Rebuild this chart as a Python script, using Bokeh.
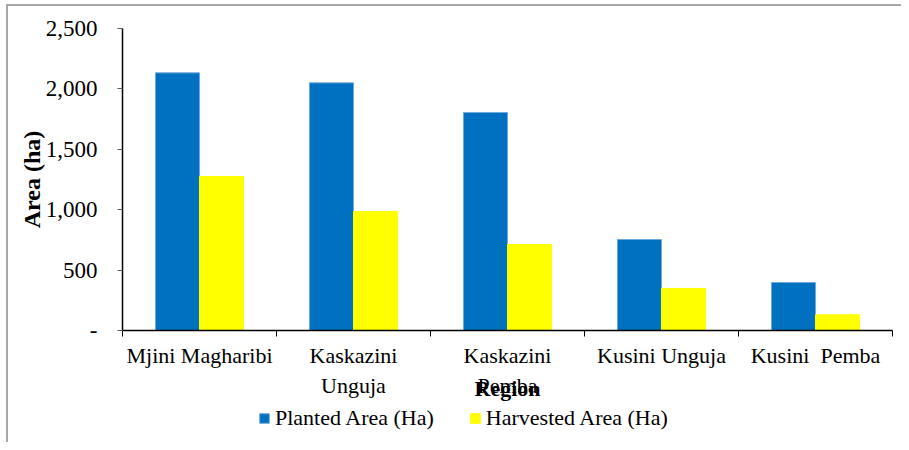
from bokeh.plotting import figure
from bokeh.layouts import column
from bokeh.models import (Range1d, FixedTicker, NumeralTickFormatter, Legend,
                          LegendItem, ColumnDataSource)
from bokeh.transform import dodge
from bokeh.embed import file_html
from bokeh.resources import INLINE

regions = ["Mjini Magharibi", "Kaskazini\nUnguja", "Kaskazini\nPemba",
           "Kusini Unguja", "Kusini\u00a0 Pemba"]
planted = [2133, 2050, 1805, 753, 397]
harvested = [1275, 985, 712, 348, 130]
y_ticks = [0, 500, 1000, 1500, 2000, 2500]
series_names = ["Planted Area (Ha)", "Harvested Area (Ha)"]
series_colors = ["#0070C0", "#FFFF00"]
series_lines = ["#6FA8DC", "#FFFF00"]

FONT = "Liberation Serif"
centers = [i + 0.5 for i in range(len(regions))]
bounds = list(range(len(regions) + 1))
bar_w = 0.286

src = ColumnDataSource(dict(x=centers, planted=planted, harvested=harvested))

p = figure(width=893, height=398, x_range=Range1d(0, len(regions)),
           y_range=Range1d(0, 2500), output_backend="svg",
           toolbar_location=None, min_border_left=114, min_border_right=9,
           min_border_top=22, min_border_bottom=74)
p.outline_line_color = None
p.xgrid.visible = False
p.ygrid.visible = False

p.vbar(x=dodge("x", -bar_w / 2), top="planted", width=bar_w, source=src,
       fill_color=series_colors[0], line_color=series_lines[0], line_width=1)
p.vbar(x=dodge("x", bar_w / 2), top="harvested", width=bar_w, source=src,
       fill_color=series_colors[1], line_color=series_lines[1], line_width=1)

# y axis
ya = p.yaxis[0]
ya.ticker = FixedTicker(ticks=y_ticks)
ya.formatter = NumeralTickFormatter(format="0,0")
ya.major_label_overrides = {0: "-"}
ya.minor_tick_line_color = None
ya.major_tick_out = 5
ya.major_tick_in = 0
ya.major_tick_line_color = "#595959"
ya.axis_line_color = "black"
ya.axis_line_width = 1.5
ya.major_label_standoff = 20
ya.major_label_text_font = FONT
ya.major_label_text_font_size = "23px"
ya.major_label_text_color = "black"
ya.axis_label = "Area (ha)"
ya.axis_label_text_font = FONT
ya.axis_label_text_font_style = "bold"
ya.axis_label_text_font_size = "24px"
ya.axis_label_text_color = "black"
ya.axis_label_standoff = -2

# x axis
xa = p.xaxis[0]
xa.ticker = FixedTicker(ticks=centers, minor_ticks=bounds)
xa.major_label_overrides = {c: r for c, r in zip(centers, regions)}
xa.major_tick_out = 0
xa.major_tick_in = 0
xa.minor_tick_out = 6
xa.minor_tick_in = 0
xa.minor_tick_line_color = "black"
xa.axis_line_color = "black"
xa.axis_line_width = 1.5
xa.major_label_standoff = 6
xa.major_label_text_font = FONT
xa.major_label_text_font_size = "22px"
xa.major_label_text_color = "black"
xa.axis_label = "Region"
xa.axis_label_text_font = FONT
xa.axis_label_text_font_style = "bold"
xa.axis_label_text_font_size = "22px"
xa.axis_label_text_color = "black"
xa.axis_label_standoff = -25

# legend strip below the plot (its bars are zero-sized, only the key shows)
lf = figure(width=893, height=38, x_range=Range1d(0, 1), y_range=Range1d(0, 1),
            output_backend="svg", toolbar_location=None, x_axis_type=None,
            y_axis_type=None, min_border=0)
lf.outline_line_color = None
lf.xgrid.visible = False
lf.ygrid.visible = False
items = []
for name, fc, lc in zip(series_names, series_colors, series_lines):
    r = lf.vbar(x=[0.5], bottom=[0.5], top=[0.5], width=0, fill_color=fc,
                line_color=lc, line_width=1)
    items.append(LegendItem(label=name, renderers=[r]))
legend = Legend(items=items, location=(136, 11), orientation="horizontal",
                glyph_width=12, glyph_height=12, label_standoff=5, spacing=35,
                padding=0, margin=0, border_line_color=None,
                background_fill_alpha=0, label_text_font=FONT,
                label_text_font_size="22px", label_text_color="black",
                label_height=24)
lf.add_layout(legend)

layout = column(p, lf, spacing=0)
layout.styles = {"border-left": "2px solid #a8a8a8",
                 "border-top": "2px solid #a8a8a8",
                 "margin-left": "6px", "margin-top": "4px"}

open("out.html", "w").write(file_html(layout, INLINE))
